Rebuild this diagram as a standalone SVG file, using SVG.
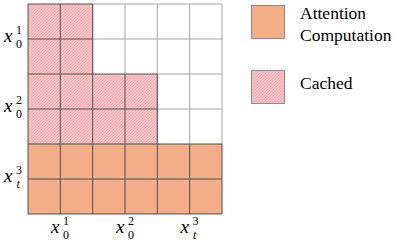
<svg xmlns="http://www.w3.org/2000/svg" width="396" height="241" viewBox="0 0 396 241">
<style>
.grid{stroke:#505050;stroke-width:1;fill:none}
.lt{stroke:#a6a6a6;stroke-width:1;fill:none}
.orange{fill:#F4AE88}
.cached{fill:url(#hatch)}
.box{stroke:#8c8c8c;stroke-width:1}
</style>
<defs>
<pattern id="hatch" patternUnits="userSpaceOnUse" width="3" height="3">
<rect width="3" height="3" fill="#F5C0C6"/>
<path d="M0,3 L3,0" stroke="#F0ACA6" stroke-width="0.8"/>
</pattern>
</defs>
<g id="matrix">
<rect x="28" y="4" width="194" height="210" fill="#fff"/>
<rect class="cached" x="28" y="4" width="64.7" height="70"/>
<rect class="cached" x="28" y="74" width="129.3" height="70"/>
<rect class="orange" x="28" y="144" width="194" height="70"/>
<path class="lt" d="M92.7,4V74 M125,4V74 M157.3,4V144 M189.7,4V144 M222,4V144 M92.7,4H222 M92.7,39H222 M157.3,74H222 M157.3,109H222"/>
<path class="grid" d="M28,4V214 M60.3,4V214 M92.7,4V214 M125,74V214 M157.3,74V214 M189.7,144V214 M222,144V214 M28,4H92.7 M28,39H92.7 M28,74H157.3 M28,109H157.3 M28,144H222 M28,179H222 M28,214H222"/>
</g>
<g id="row-labels" font-family="'Liberation Serif','DejaVu Serif',serif" fill="#000">
<text x="4" y="42" font-size="19" font-style="italic">x</text><text x="16" y="34" font-size="12">1</text><text x="16" y="48" font-size="12">0</text>
<text x="4" y="112" font-size="19" font-style="italic">x</text><text x="16" y="104" font-size="12">2</text><text x="16" y="118" font-size="12">0</text>
<text x="4" y="182" font-size="19" font-style="italic">x</text><text x="16" y="174" font-size="12">3</text><text x="16.5" y="188" font-size="12" font-style="italic">t</text>
</g>
<g id="col-labels" font-family="'Liberation Serif','DejaVu Serif',serif" fill="#000">
<text x="51" y="233" font-size="19" font-style="italic">x</text><text x="63" y="225" font-size="12">1</text><text x="63" y="239" font-size="12">0</text>
<text x="116" y="233" font-size="19" font-style="italic">x</text><text x="128" y="225" font-size="12">2</text><text x="128" y="239" font-size="12">0</text>
<text x="180.5" y="233" font-size="19" font-style="italic">x</text><text x="192.5" y="225" font-size="12">3</text><text x="193" y="239" font-size="12" font-style="italic">t</text>
</g>
<g id="legend-attention" font-family="'Liberation Serif','DejaVu Serif',serif" font-size="17.5" fill="#000">
<rect class="orange box" x="251.5" y="5.5" width="33" height="33"/>
<text x="300" y="19">Attention</text>
<text x="300" y="41">Computation</text>
</g>
<g id="legend-cached" font-family="'Liberation Serif','DejaVu Serif',serif" font-size="17.5" fill="#000">
<rect class="cached box" x="251.5" y="70.5" width="33" height="33"/>
<text x="300" y="89">Cached</text>
</g>
</svg>
